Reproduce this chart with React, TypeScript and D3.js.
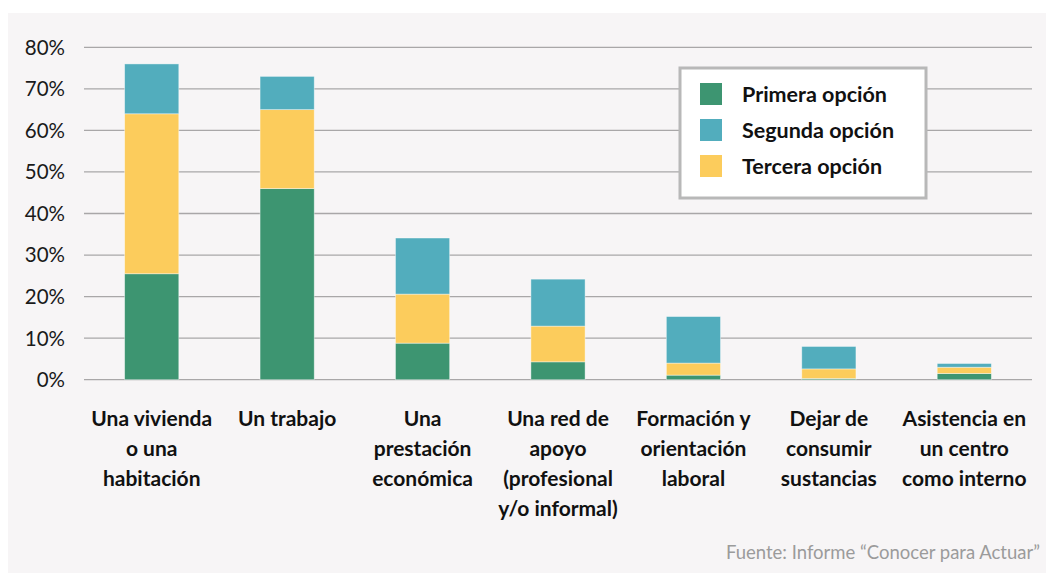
import React from "react";
import * as d3 from "d3";

const categories: string[][] = [
  ["Una vivienda", "o una", "habitación"],
  ["Un trabajo"],
  ["Una", "prestación", "económica"],
  ["Una red de", "apoyo", "(profesional", "y/o informal)"],
  ["Formación y", "orientación", "laboral"],
  ["Dejar de", "consumir", "sustancias"],
  ["Asistencia en", "un centro", "como interno"],
];
const primera = [25.5, 46, 8.8, 4.3, 1.1, 0.3, 1.5];
const tercera = [38.5, 19, 11.8, 8.6, 2.9, 2.3, 1.5];
const segunda = [12, 8, 13.5, 11.3, 11.2, 5.4, 0.9];
const yTicks = [0, 10, 20, 30, 40, 50, 60, 70, 80];
const seriesNames = ["Primera opción", "Segunda opción", "Tercera opción"];
const colors = { primera: "#3d9571", segunda: "#52adbd", tercera: "#fccc5c" };

const W = 1046;
const H = 573;
const left = 84;
const right = 1032;
const top = 47.3;
const bottom = 379.7;
const font = "Lato, 'Open Sans', sans-serif";

export default function App() {
  const x = d3
    .scaleBand<number>()
    .domain(d3.range(categories.length))
    .range([left, right])
    .paddingInner(0.6)
    .paddingOuter(0.3);
  const y = d3.scaleLinear().domain([0, 80]).range([bottom, top]);

  const rows = categories.map((_, i) => ({
    i,
    primera: primera[i],
    tercera: tercera[i],
    segunda: segunda[i],
  }));
  const stack = d3.stack<any>().keys(["primera", "tercera", "segunda"]);
  const layers = stack(rows);

  const legendItems = [
    { name: seriesNames[0], color: colors.primera },
    { name: seriesNames[1], color: colors.segunda },
    { name: seriesNames[2], color: colors.tercera },
  ];

  return (
    <svg
      width={W}
      height={H}
      style={{ position: "absolute", left: 0, top: 0, display: "block" }}
    >
      <rect x={0} y={0} width={W} height={H} fill="#ffffff" />
      <rect x={8} y={13} width={W - 8} height={H - 13} fill="#f7f5f6" />
      {yTicks.map((t) => (
        <g key={t}>
          <line
            x1={left}
            x2={right}
            y1={y(t)}
            y2={y(t)}
            stroke="#a9a7a8"
            strokeWidth={1.3}
          />
          <text
            x={65}
            y={y(t)}
            dy="0.36em"
            textAnchor="end"
            fontFamily={font}
            fontSize={20.5}
            fill="#1a1a1a"
          >
            {t}%
          </text>
        </g>
      ))}
      {layers.map((layer) => (
        <g key={layer.key}>
          {layer.map((d, i) => (
            <rect
              key={i}
              x={x(i)!}
              width={x.bandwidth()}
              y={y(d[1])}
              height={Math.max(0, y(d[0]) - y(d[1]))}
              fill={(colors as any)[layer.key]}
              stroke="#ffffff"
              strokeOpacity={0.5}
              strokeWidth={0.8}
            />
          ))}
        </g>
      ))}
      {categories.map((lines, i) => (
        <text
          key={i}
          textAnchor="middle"
          fontFamily={font}
          fontWeight={700}
          fontSize={21}
          fill="#111"
        >
          {lines.map((l, j) => (
            <tspan key={j} x={x(i)! + x.bandwidth() / 2} y={426 + j * 30}>
              {l}
            </tspan>
          ))}
        </text>
      ))}
      <rect
        x={680}
        y={68}
        width={246}
        height={130}
        fill="#ffffff"
        stroke="#b8b8b8"
        strokeWidth={3}
      />
      {legendItems.map((it, k) => (
        <g key={k}>
          <rect x={700} y={83 + k * 36} width={22} height={22} fill={it.color} />
          <text
            x={742}
            y={94 + k * 36}
            dy="0.36em"
            fontFamily={font}
            fontWeight={700}
            fontSize={21.5}
            fill="#111"
          >
            {it.name}
          </text>
        </g>
      ))}
      <text
        x={1040}
        y={559}
        textAnchor="end"
        fontFamily={font}
        fontSize={18.5}
        fill="#9b9b9b"
      >
        Fuente: Informe “Conocer para Actuar”
      </text>
    </svg>
  );
}
